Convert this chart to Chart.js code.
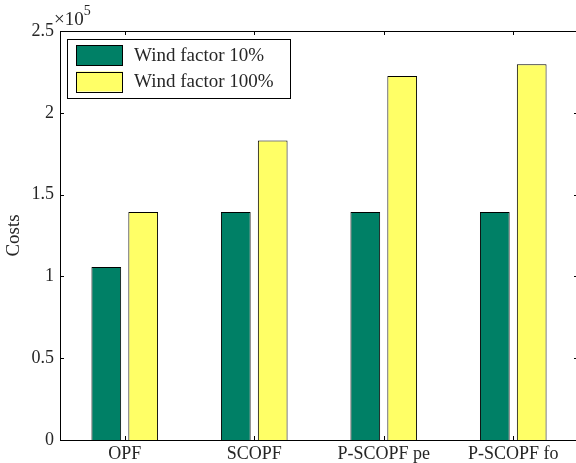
<!DOCTYPE html>
<html>
<head>
<meta charset="utf-8">
<script src="https://cdn.jsdelivr.net/npm/chart.js@4/dist/chart.umd.min.js"></script>
<style>
  html, body { margin: 0; padding: 0; background: #fff; overflow: hidden; }
  #wrap { width: 580px; height: 463px; }
</style>
</head>
<body>
<div id="wrap"><canvas id="chart" width="580" height="463"></canvas></div>
<script>
const categories = ['OPF', 'SCOPF', 'P-SCOPF pe', 'P-SCOPF fo'];
const seriesNames = ['Wind factor 10%', 'Wind factor 100%'];
const wind10 = [105700, 139300, 139300, 139300];
const wind100 = [139300, 183000, 222500, 229700];
const yTicks = [0, 50000, 100000, 150000, 200000, 250000];

const SERIF = '"Liberation Serif", "Times New Roman", serif';
const INK = '#262626';

// box, inward tick marks, exponent and legend drawn on top of the plot
const matlabAxes = {
  id: 'matlabAxes',
  afterDatasetsDraw(chart) {
    const { ctx, chartArea: a, scales } = chart;
    const tl = 4;
    ctx.save();
    ctx.strokeStyle = '#000';
    ctx.lineWidth = 1;

    ctx.beginPath();
    scales.x.ticks.forEach((t, i) => {
      const x = Math.round(scales.x.getPixelForTick(i)) + 0.5;
      ctx.moveTo(x, a.bottom); ctx.lineTo(x, a.bottom - tl);
      ctx.moveTo(x, a.top); ctx.lineTo(x, a.top + tl);
    });
    yTicks.forEach(v => {
      const y = Math.round(scales.y.getPixelForValue(v)) + 0.5;
      ctx.moveTo(a.left, y); ctx.lineTo(a.left + tl, y);
      ctx.moveTo(a.right, y); ctx.lineTo(a.right - tl, y);
    });
    ctx.stroke();

    ctx.strokeRect(Math.round(a.left) + 0.5, Math.round(a.top) + 0.5,
      Math.round(a.right - a.left), Math.round(a.bottom - a.top));

    // x10^5 multiplier
    ctx.fillStyle = INK;
    ctx.textBaseline = 'alphabetic';
    ctx.textAlign = 'left';
    ctx.font = '19px ' + SERIF;
    ctx.fillText('\u00d710', 54, 25);
    const w = ctx.measureText('\u00d710').width;
    ctx.font = '14px ' + SERIF;
    ctx.fillText('5', 54 + w, 15);

    // legend
    const lx = 67, ly = 39, lw = 223, lh = 59;
    ctx.fillStyle = '#fff';
    ctx.fillRect(lx, ly, lw, lh);
    ctx.strokeStyle = '#000';
    ctx.strokeRect(lx + 0.5, ly + 0.5, lw, lh);
    chart.data.datasets.forEach((ds, i) => {
      const sy = 45 + i * 26.5;
      ctx.fillStyle = ds.backgroundColor;
      ctx.fillRect(76, sy, 47, 20);
      ctx.strokeStyle = '#000';
      ctx.strokeRect(76.5, Math.round(sy) + 0.5, 46, 20);
      ctx.fillStyle = INK;
      ctx.font = '19px ' + SERIF;
      ctx.textBaseline = 'middle';
      ctx.fillText(ds.label, 134, sy + 11);
    });
    ctx.restore();
  }
};

new Chart(document.getElementById('chart'), {
  type: 'bar',
  data: {
    labels: categories,
    datasets: [
      { label: seriesNames[0], data: wind10, backgroundColor: '#008066' },
      { label: seriesNames[1], data: wind100, backgroundColor: '#ffff66' }
    ]
  },
  options: {
    responsive: false,
    devicePixelRatio: 1,
    animation: false,
    layout: { padding: { top: 31, right: 2, left: 0, bottom: 0 } },
    datasets: {
      bar: {
        categoryPercentage: 0.57,
        barPercentage: 0.805,
        borderColor: '#000',
        borderWidth: 1
      }
    },
    plugins: {
      legend: { display: false },
      tooltip: { enabled: false }
    },
    scales: {
      x: {
        grid: { display: false, drawTicks: false },
        border: { display: false },
        ticks: { color: INK, font: { family: SERIF, size: 18 }, padding: 3 },
        afterFit(scale) { scale.height = 23; }
      },
      y: {
        min: 0,
        max: 250000,
        grid: { display: false, drawTicks: false },
        border: { display: false },
        afterBuildTicks(scale) { scale.ticks = yTicks.map(v => ({ value: v })); },
        ticks: {
          color: INK,
          font: { family: SERIF, size: 18 },
          padding: 6,
          callback: v => String(v / 100000)
        },
        title: {
          display: true,
          text: 'Costs',
          color: INK,
          font: { family: SERIF, size: 19 },
          padding: { top: 3, bottom: 0 }
        },
        afterFit(scale) { scale.width = 60; }
      }
    }
  },
  plugins: [matlabAxes]
});
</script>
</body>
</html>
